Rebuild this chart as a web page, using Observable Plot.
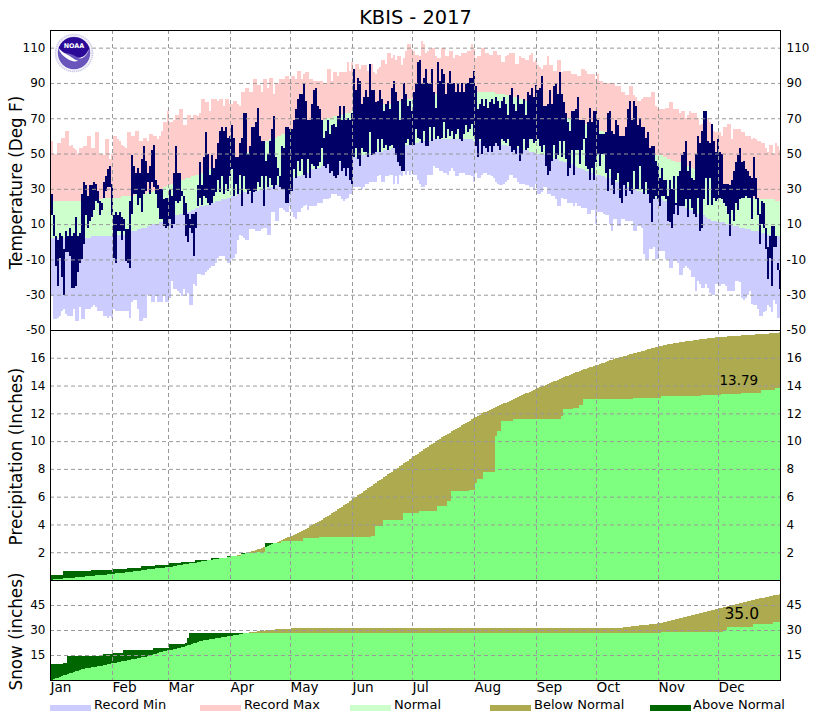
<!DOCTYPE html>
<html>
<head>
<meta charset="utf-8">
<script src="https://cdn.jsdelivr.net/npm/d3@7"></script>
<script src="https://cdn.jsdelivr.net/npm/@observablehq/plot@0.6"></script>
<style>
html,body{margin:0;padding:0;background:#fff;font-family:"DejaVu Sans",sans-serif;color:#000}
#page{position:relative;width:830px;height:720px;overflow:hidden}
#title{height:30px;line-height:36px;text-align:center;font-size:19.4px;padding-left:1px}
#legend{position:relative;height:20px}
#legend i{position:absolute;top:5px;height:6px;width:41px;display:block}
#legend span{position:absolute;top:-3px;font-size:13px;line-height:16px;white-space:pre}
#logo{position:absolute;left:54px;top:33px;width:40px;height:40px}
</style>
</head>
<body>
<div id="page">
<div id="title">KBIS - 2017</div>
<div id="plots"></div>
<div id="legend"></div>
<svg id="logo" viewBox="0 0 40 40">
<circle cx="20" cy="20" r="18.5" fill="#f4f3fb" stroke="#c9c6e6" stroke-width="1.6" stroke-dasharray="1.2,0.8"/>
<circle cx="20" cy="20" r="16.2" fill="#6a55bd"/>
<path d="M4.4 16 A16.2 16.2 0 0 1 35.6 16 C33 22 30 25 27 25 C23 25 20 21 12 20 C9 19.5 6.5 18 4.4 16Z" fill="#2a0a96"/>
<path d="M4 14.5 C8 19 11 20.5 14 22 C18 24 20 27 24 27.5 C22 29.5 16 28 13 25.5 C9 23 6 20 4 14.5Z M36 14 C33 21 30 24.5 24 25 C28 26.5 33 24 36 14Z" fill="#fff"/>
<text x="20" y="14.5" text-anchor="middle" font-size="6.4" font-weight="bold" fill="#fff" font-family="DejaVu Sans">NOAA</text>
</svg>
</div>
<script>
const monthNames = ["Jan","Feb","Mar","Apr","May","Jun","Jul","Aug","Sep","Oct","Nov","Dec"];
const monthStarts = [0,31,59,90,120,151,181,212,243,273,304,334];

const tempTicks = [-50,-30,-10,10,30,50,70,90,110];
const precipTicks = [2,4,6,8,10,12,14,16];
const snowTicks = [15,30,45];

const recordMax = [
57,50,50,56,56,59,59,63,63,54,55,53,52,50,53,53,54,54,60,60,53,53,62,62,50,50,49,58,58,47,50,
60,60,58,57,55,54,53,62,62,60,60,63,63,57,57,59,59,57,61,61,60,60,58,60,63,68,68,74,
68,68,69,72,72,75,75,66,66,72,72,70,72,72,71,73,81,81,79,79,74,81,81,81,80,81,81,77,81,81,78,
78,80,80,78,77,85,85,87,87,85,85,92,92,89,89,85,92,92,87,93,93,84,90,90,92,92,92,94,94,92,
94,94,92,97,97,92,95,96,96,92,92,91,91,91,91,91,90,90,98,98,91,96,96,94,96,96,96,96,102,97,102,
95,101,101,98,100,100,100,97,101,101,96,95,98,99,103,103,101,107,107,104,106,103,105,105,100,104,108,112,112,109,
108,106,106,105,114,112,107,108,109,110,110,105,104,104,110,110,105,105,108,108,104,106,106,105,107,107,107,108,108,112,109,
104,105,105,110,110,107,107,106,106,108,108,106,106,102,102,105,106,107,107,107,101,101,105,104,104,103,103,106,107,102,103,
100,99,98,100,100,105,100,100,97,97,103,103,96,97,97,97,97,95,95,95,94,94,98,98,97,95,95,95,95,92,
95,91,91,90,90,90,90,90,90,88,88,88,85,85,83,83,88,88,83,82,80,80,81,82,82,82,82,85,85,77,76,
75,75,75,76,76,79,79,75,75,75,73,74,74,70,72,74,73,73,73,70,66,67,68,70,70,68,67,63,62,62,
62,60,65,65,67,67,58,64,64,64,64,62,62,60,60,60,58,59,58,57,57,56,56,53,51,55,55,50,56,54,52];

const recordMin = [
-31,-44,-44,-43,-42,-39,-38,-41,-42,-42,-42,-38,-45,-45,-37,-44,-44,-38,-38,-38,-37,-36,-37,-39,-39,-39,-42,-42,-43,-42,-43,
-38,-39,-39,-39,-39,-39,-39,-39,-43,-34,-33,-33,-38,-45,-45,-43,-43,-30,-30,-34,-34,-31,-34,-34,-34,-30,-34,-34,
-32,-22,-27,-27,-28,-29,-31,-27,-30,-29,-36,-36,-24,-25,-18,-18,-19,-19,-17,-16,-15,-14,-14,-12,-9,-8,-8,-8,-10,-12,-12,
-10,-9,-7,1,4,3,2,1,1,7,7,7,6,6,6,7,8,8,4,4,17,17,12,12,19,19,18,17,17,20,
17,14,13,17,17,19,20,21,18,20,20,20,20,22,22,22,24,24,24,25,27,27,27,26,26,24,23,24,25,27,27,
31,31,31,31,30,31,33,33,34,34,34,34,37,38,34,34,37,37,38,38,33,37,33,38,37,40,38,40,38,40,
38,38,35,33,31,31,32,38,38,38,43,42,42,40,40,39,39,38,40,42,40,37,37,39,39,39,38,38,38,37,34,
39,36,36,38,39,39,38,38,37,36,34,33,32,32,33,34,35,38,38,36,36,34,33,33,33,32,32,31,31,30,33,
27,27,28,31,31,27,27,26,26,24,20,20,25,24,24,22,22,22,20,22,20,20,19,19,19,16,16,18,18,10,
17,17,17,16,15,15,10,6,13,13,9,9,13,13,12,12,12,12,6,6,9,9,8,-7,-10,-10,-4,-4,-3,-10,-10,
-5,-5,-5,-10,-10,-15,-15,-11,-11,-12,-19,-19,-15,-14,-15,-16,-20,-20,-28,-22,-24,-26,-26,-24,-26,-29,-30,-30,-24,-24,
-25,-24,-24,-25,-28,-28,-28,-28,-22,-22,-23,-32,-33,-32,-30,-28,-35,-36,-36,-38,-42,-42,-40,-39,-36,-37,-40,-33,-35,-43,-43];

const normalHigh = [
23,23,23,23,23,23,23,23,23,23,23,23,23,23,23,23,24,24,24,24,24,24,24,24,24,24,25,25,25,25,25,
25,25,25,25,26,26,26,26,26,26,26,27,27,27,27,27,27,28,28,28,29,29,29,30,30,31,31,32,
32,33,33,34,34,34,35,35,36,36,36,37,37,38,38,39,39,40,40,41,41,42,42,42,43,43,44,44,45,45,46,
46,47,47,48,49,49,50,51,51,52,52,53,54,54,55,55,56,57,57,58,58,59,59,60,60,61,61,62,62,63,
63,63,64,64,65,65,66,66,67,67,67,68,68,68,69,69,69,70,70,70,70,71,71,71,72,72,72,73,73,73,74,
74,74,74,75,75,75,75,76,76,76,76,77,77,77,77,78,78,78,78,79,79,79,79,80,80,80,80,81,81,81,
81,81,82,82,82,82,83,83,83,83,83,84,84,84,84,84,84,85,85,85,85,85,85,85,85,85,85,85,85,85,85,
85,85,85,85,85,85,85,85,85,85,84,84,84,84,84,83,83,83,83,82,82,82,81,81,81,80,80,79,79,78,78,
78,77,77,76,76,75,74,74,73,73,72,72,71,71,71,70,70,70,69,69,69,68,68,67,67,66,66,65,65,64,
64,63,63,62,62,61,61,60,60,59,59,58,58,57,57,56,56,55,55,54,54,53,53,52,52,51,51,50,50,49,49,
49,49,48,48,47,47,46,46,45,45,45,44,44,43,43,42,42,41,41,40,40,39,39,38,38,37,36,36,35,34,
33,32,32,31,31,30,30,29,29,28,28,27,27,26,26,25,25,25,24,24,24,24,24,24,24,24,24,24,23,23,23];

const normalLow = [
2,2,2,2,2,2,2,2,2,2,2,2,2,2,2,2,2,2,2,2,3,3,3,3,3,3,3,3,3,3,3,
3,3,4,4,4,4,5,5,5,6,6,6,7,7,8,8,8,9,9,10,10,10,10,11,11,12,13,13,
14,14,15,15,15,16,16,16,17,17,17,18,18,19,19,20,20,20,21,21,21,22,22,23,23,23,24,24,24,25,25,
26,26,26,27,27,27,28,28,28,28,29,29,29,29,30,30,30,30,31,31,31,32,32,32,33,33,33,34,34,35,
35,36,36,37,37,38,38,39,39,40,41,41,42,42,42,43,43,43,44,44,44,44,45,45,45,46,46,46,47,47,47,
48,48,48,49,49,49,50,50,50,50,51,51,51,51,51,52,52,52,52,53,53,53,53,54,54,54,55,55,56,56,
56,56,56,57,57,57,57,57,57,57,58,58,58,58,58,58,58,58,58,58,58,58,58,58,58,58,58,58,58,58,57,
57,57,57,57,56,56,56,56,56,56,56,55,55,55,55,55,54,54,54,54,54,53,53,53,52,52,52,51,51,51,50,
50,50,50,49,49,48,48,48,47,47,47,46,46,45,45,45,44,44,43,43,42,42,41,41,40,40,39,39,38,38,
38,38,37,37,36,36,36,35,35,34,34,33,33,32,32,31,31,30,30,30,29,29,28,28,27,27,26,26,25,25,24,
24,24,23,23,23,22,22,21,21,21,20,20,20,19,19,18,18,17,17,16,16,15,15,14,13,13,12,12,12,11,
11,11,11,10,10,10,10,9,9,9,8,8,8,7,7,7,6,6,6,6,5,5,5,5,4,4,4,4,3,3,3];

const obsHigh = [
27,15,3,1,5,3,-4,6,3,8,3,5,14,3,5,27,34,32,26,32,32,34,33,29,23,22,34,37,41,43,33,
15,17,15,17,14,13,7,7,23,49,43,39,42,39,47,54,46,39,43,52,55,35,32,30,30,24,25,25,
30,26,39,54,39,39,29,26,22,16,13,16,16,17,32,45,32,48,62,50,38,49,42,47,56,63,65,63,65,59,60,
66,59,48,48,56,59,73,73,50,54,65,65,68,76,60,57,57,46,50,57,64,71,48,42,37,54,53,65,65,64,
64,69,75,81,84,84,90,80,69,69,78,86,87,77,75,69,59,63,69,61,66,67,65,71,77,69,77,69,70,69,73,
98,86,93,91,78,82,86,82,101,86,86,79,80,86,81,74,78,80,75,87,91,85,80,69,81,90,84,77,80,74,
85,90,102,103,90,93,98,90,90,98,85,76,102,91,98,95,84,90,97,90,90,85,90,85,90,85,90,90,93,93,97,
88,75,78,81,77,81,76,79,81,78,82,80,76,80,82,78,72,83,87,78,74,83,78,78,81,72,85,83,87,82,89,
86,87,94,77,77,78,86,78,88,90,84,96,84,79,73,68,63,74,74,75,82,69,69,69,59,68,76,68,74,74,
69,61,61,61,62,73,74,63,61,69,66,60,60,60,65,75,80,69,80,77,66,70,65,65,59,62,53,54,54,46,43,
36,42,35,35,26,35,30,37,22,37,40,49,51,57,40,46,36,35,50,60,56,63,74,74,57,56,67,57,51,58,
51,50,33,33,33,32,35,40,45,49,53,45,46,41,40,37,36,48,36,25,16,23,22,8,-3,3,9,9,3,-12,-16];

const obsLow = [
15,3,-14,-25,-9,-20,-30,-6,-6,-8,-26,-26,-25,-17,-12,-10,-1,15,8,12,14,18,23,22,15,18,25,29,31,31,15,
-9,-12,6,6,1,6,-11,-12,-15,16,27,27,21,25,17,27,29,34,27,34,31,27,19,13,13,9,8,9,
13,8,10,23,22,23,26,15,3,0,8,5,-8,8,20,25,21,26,25,22,21,22,26,28,35,28,37,27,33,29,37,
41,26,33,27,38,20,37,30,27,29,22,28,29,34,31,37,20,37,31,36,32,30,32,37,31,30,30,22,22,27,
29,41,36,46,40,47,38,36,47,36,44,43,41,43,45,53,43,42,44,39,40,37,36,38,46,40,42,37,42,35,33,
48,53,47,43,53,51,51,48,62,49,50,51,58,51,58,53,55,52,54,55,53,49,45,43,40,40,56,58,55,55,
55,64,59,58,56,63,54,54,65,57,65,58,60,58,59,68,59,64,60,63,58,61,64,58,57,61,66,62,64,67,60,
54,48,58,50,54,53,51,54,51,54,56,54,52,58,57,56,58,54,51,52,50,54,46,50,58,52,53,58,58,56,57,
58,54,51,55,43,38,40,46,55,47,49,57,48,57,47,37,42,52,38,52,52,44,52,58,43,41,35,42,35,45,
50,43,50,50,39,29,41,32,27,35,39,25,22,32,26,34,29,27,40,30,30,43,30,27,34,27,22,11,24,26,24,
20,26,26,24,12,11,8,16,21,15,20,20,20,24,14,24,19,16,14,25,6,8,24,36,21,36,21,25,23,24,
25,24,22,20,16,3,18,12,22,18,24,25,25,26,25,25,13,26,24,15,-1,10,8,-4,-21,-9,-25,-3,-3,-16,-27];

const normalPrecip = [
0.03,0.04,0.06,0.07,0.08,0.10,0.11,0.12,0.14,0.15,0.16,0.18,0.19,0.20,0.22,0.23,0.25,0.26,0.27,0.29,0.30,0.31,0.33,0.34,0.35,0.37,0.38,0.39,0.41,0.42,0.44,
0.45,0.47,0.49,0.51,0.52,0.54,0.56,0.58,0.60,0.61,0.63,0.65,0.67,0.68,0.70,0.72,0.74,0.76,0.77,0.79,0.81,0.83,0.84,0.86,0.88,0.90,0.92,0.93,
0.95,0.97,1.00,1.02,1.05,1.07,1.09,1.12,1.14,1.17,1.19,1.22,1.24,1.26,1.29,1.31,1.34,1.36,1.38,1.41,1.43,1.46,1.48,1.50,1.53,1.55,1.58,1.60,1.62,1.65,1.67,
1.70,1.73,1.76,1.79,1.83,1.86,1.90,1.94,1.98,2.02,2.06,2.10,2.15,2.20,2.25,2.30,2.35,2.41,2.46,2.52,2.58,2.64,2.70,2.76,2.82,2.88,2.95,3.01,3.07,3.13,
3.20,3.27,3.34,3.41,3.48,3.55,3.62,3.70,3.78,3.86,3.94,4.02,4.10,4.18,4.26,4.35,4.44,4.53,4.62,4.71,4.80,4.89,4.98,5.08,5.18,5.28,5.38,5.48,5.58,5.68,5.78,
5.89,6.00,6.10,6.20,6.30,6.40,6.50,6.60,6.70,6.80,6.90,7.00,7.10,7.20,7.30,7.40,7.50,7.60,7.70,7.80,7.90,8.00,8.10,8.20,8.30,8.40,8.50,8.60,8.70,8.80,
8.90,9.00,9.10,9.20,9.30,9.40,9.50,9.60,9.70,9.80,9.90,10.00,10.09,10.18,10.27,10.35,10.44,10.53,10.62,10.70,10.79,10.88,10.96,11.05,11.14,11.22,11.31,11.40,11.48,11.57,11.65,
11.74,11.83,11.91,12.00,12.07,12.13,12.20,12.26,12.33,12.39,12.46,12.52,12.59,12.65,12.72,12.78,12.85,12.91,12.98,13.04,13.11,13.17,13.24,13.30,13.37,13.43,13.50,13.56,13.63,13.69,13.76,
13.82,13.88,13.94,14.00,14.06,14.12,14.18,14.24,14.30,14.36,14.42,14.48,14.54,14.60,14.66,14.72,14.78,14.84,14.90,14.96,15.01,15.06,15.11,15.16,15.21,15.26,15.31,15.36,15.41,15.46,
15.51,15.56,15.61,15.66,15.71,15.76,15.81,15.86,15.91,15.96,16.00,16.04,16.08,16.12,16.16,16.20,16.24,16.28,16.32,16.36,16.40,16.44,16.48,16.52,16.56,16.60,16.64,16.68,16.72,16.76,16.80,
16.84,16.87,16.90,16.93,16.96,16.99,17.02,17.05,17.08,17.10,17.12,17.14,17.16,17.18,17.20,17.22,17.24,17.26,17.28,17.30,17.32,17.34,17.36,17.38,17.40,17.42,17.44,17.46,17.48,17.49,
17.50,17.51,17.52,17.53,17.54,17.55,17.56,17.57,17.58,17.59,17.60,17.61,17.62,17.63,17.64,17.65,17.66,17.67,17.68,17.69,17.70,17.71,17.72,17.73,17.74,17.75,17.76,17.78,17.80,17.82,17.84];

const normalSnow = [
0.3,0.7,1.1,1.5,2,2.4,2.9,3.3,3.7,4.1,4.5,4.9,5.2,5.6,6,6.4,6.7,7,7.2,7.4,7.6,7.8,8,8.2,8.4,8.7,9,9.3,9.6,9.8,10,
10.2,10.5,10.7,11,11.2,11.5,11.7,12,12.2,12.4,12.7,12.9,13.2,13.4,13.7,13.9,14.1,14.4,14.6,15,15.4,15.8,16.2,16.6,17,17.3,17.6,17.8,
18,18.3,18.6,18.9,19.2,19.5,19.8,20.1,20.4,20.8,21.2,21.6,22,22.4,22.8,23.2,23.6,23.8,24,24.2,24.4,24.6,24.8,25,25.2,25.4,25.6,25.8,26,26.2,26.4,
26.6,26.8,27,27.2,27.4,27.7,28,28.2,28.4,28.6,28.8,29,29.1,29.3,29.4,29.6,29.7,29.9,30,30.1,30.2,30.3,30.4,30.5,30.6,30.7,30.8,30.8,30.9,30.9,
31,31,31,31.1,31.1,31.1,31.2,31.2,31.2,31.3,31.3,31.3,31.3,31.4,31.4,31.4,31.4,31.4,31.4,31.4,31.4,31.4,31.4,31.4,31.4,31.4,31.4,31.4,31.4,31.4,31.4,
31.4,31.4,31.4,31.4,31.4,31.4,31.4,31.4,31.4,31.4,31.4,31.4,31.4,31.4,31.4,31.4,31.4,31.4,31.4,31.4,31.4,31.4,31.4,31.4,31.4,31.4,31.4,31.4,31.4,31.4,
31.4,31.4,31.4,31.4,31.4,31.4,31.4,31.4,31.4,31.4,31.4,31.4,31.4,31.4,31.4,31.4,31.4,31.4,31.4,31.4,31.4,31.4,31.4,31.4,31.4,31.4,31.4,31.4,31.4,31.4,31.4,
31.4,31.4,31.4,31.4,31.4,31.4,31.4,31.4,31.4,31.4,31.4,31.4,31.4,31.4,31.4,31.4,31.4,31.4,31.4,31.4,31.4,31.4,31.4,31.4,31.4,31.4,31.4,31.4,31.4,31.4,31.4,
31.4,31.4,31.4,31.4,31.4,31.4,31.4,31.4,31.4,31.4,31.4,31.4,31.4,31.4,31.4,31.4,31.4,31.4,31.4,31.4,31.4,31.4,31.4,31.4,31.4,31.4,31.4,31.4,31.4,31.4,
31.4,31.4,31.4,31.4,31.4,31.4,31.4,31.4,31.4,31.4,31.4,31.4,31.5,31.6,31.7,31.8,32,32.2,32.4,32.5,32.6,32.8,32.9,33,33.1,33.3,33.5,33.7,33.8,33.9,34,
34.2,34.5,34.8,35,35.3,35.6,35.9,36.2,36.5,36.8,37,37.3,37.6,37.9,38.3,38.6,38.9,39.2,39.5,39.8,40.2,40.5,40.8,41.1,41.4,41.7,42,42.3,42.5,42.8,
43,43.3,43.6,43.9,44.2,44.5,44.8,45.1,45.4,45.7,46,46.3,46.6,46.9,47.2,47.5,47.8,48.1,48.4,48.7,49,49.2,49.5,49.8,50,50.3,50.6,50.8,51,51.3,51.6];

// observed accumulation: the day each step begins and the total from that day on
const obsPrecipDays = [0,6,20,31,38,45,52,59,65,72,80,88,95,102,107,111,115,126,134,160,162,166,174,176,181,184,193,198,200,209,212,213,216,222,223,225,231,255,256,261,264,266,291,305,325,335,345,355,362];
const obsPrecipVals = [0.36,0.62,0.7,0.8,0.9,1.0,1.1,1.25,1.3,1.45,1.6,1.75,1.95,2.05,2.65,2.7,2.8,3.0,3.1,3.17,3.9,4.3,4.35,4.8,4.85,4.97,5.3,5.7,6.4,6.5,7.0,7.3,7.8,10.4,10.7,11.45,11.6,11.8,12.3,12.4,12.6,13.0,13.1,13.25,13.3,13.4,13.5,13.65,13.79];
const obsSnowDays = [0,6,8,26,31,36,51,59,67,68,69,305,336,338,351,361];
const obsSnowVals = [9.4,10,14.4,15.6,16.5,18,19,21.6,22.4,25,28,29,30,31.6,33.6,35];

const finalPrecip = "13.79";
const finalSnow = "35.0";

const legendLabels = ["Record Min","Record Max","Normal","Below Normal","Above Normal"];
const legendColors = ["#ccccff","#ffcccc","#ccffcc","#adaa4f","#006600"];
const legendLeft = [50,200,350,490,650];
const legendText = [94,244,394,534,693];

const C = {recMin:"#ccccff",recMax:"#ffcccc",normal:"#ccffcc",obs:"#000066",green:"#7fff7f",below:"#adaa4f",above:"#006600",grid:"#999999"};
const days = d3.range(365);
const rectOpts = (y1,y2,fill) => ({x1:d=>d, x2:d=>d+1, y1, y2, fill, dx:1, shapeRendering:"crispEdges"});
const stepAt = (ds,vs,d) => vs[d3.bisectRight(ds,d)-1];

function gridMarks(yTicks){
  return [
    Plot.ruleX(monthStarts.slice(1),{x:d=>d,stroke:C.grid,strokeDasharray:"4,3"}),
    Plot.ruleY(yTicks,{y:d=>d,stroke:C.grid,strokeDasharray:"4,3"})
  ];
}
function axisMarks(yTicks,label,labelDy){
  return [
    Plot.frame({stroke:"#000"}),
    Plot.axisY({anchor:"left",ticks:yTicks,tickSize:0,tickPadding:5,label:null,tickFormat:d=>String(d)}),
    Plot.axisY({anchor:"right",ticks:yTicks,tickSize:0,tickPadding:6,label:null,tickFormat:d=>String(d)}),
    Plot.text([label],{frameAnchor:"left",textAnchor:"middle",dx:-34,dy:labelDy,rotate:-90,fontSize:16.8,fill:"#000"})
  ];
}
const base = {width:830,marginLeft:50,marginRight:50,marginTop:0,
  x:{domain:[0,365],axis:null},
  style:{fontFamily:"DejaVu Sans",fontSize:"12px",background:"none",overflow:"visible",color:"#000"}};

const tempPlot = Plot.plot({...base,height:300,marginBottom:0,
  y:{domain:[-50,120],axis:null},
  marks:[
    Plot.rect(days,rectOpts(d=>recordMin[d],d=>normalLow[d],C.recMin)),
    Plot.rect(days,rectOpts(d=>normalHigh[d],d=>recordMax[d],C.recMax)),
    Plot.rect(days,rectOpts(d=>normalLow[d],d=>normalHigh[d],C.normal)),
    Plot.rect(days,rectOpts(d=>obsLow[d],d=>obsHigh[d],C.obs)),
    ...gridMarks(tempTicks),
    ...axisMarks(tempTicks,"Temperature (Deg F)",2)
  ]});

function accumMarks(normal,obs){
  return [
    Plot.rect(days,rectOpts(()=>0,d=>Math.min(normal(d),obs(d)),C.green)),
    Plot.rect(days.filter(d=>normal(d)>obs(d)),rectOpts(d=>obs(d),d=>normal(d),C.below)),
    Plot.rect(days.filter(d=>obs(d)>normal(d)),rectOpts(d=>normal(d),d=>obs(d),C.above))
  ];
}
const precipObs = d=>stepAt(obsPrecipDays,obsPrecipVals,d);
const snowObs = d=>stepAt(obsSnowDays,obsSnowVals,d);

const precipPlot = Plot.plot({...base,height:250,marginBottom:0,
  y:{domain:[0,18],axis:null},
  marks:[
    ...accumMarks(d=>normalPrecip[d],precipObs),
    ...gridMarks(precipTicks),
    Plot.text([finalPrecip],{x:()=>334.5,y:()=>14.4,textAnchor:"start",fontSize:13.5,fill:"#000"}),
    ...axisMarks(precipTicks,"Precipitation (Inches)",1)
  ]});

const snowPlot = Plot.plot({...base,height:120,marginBottom:20,
  y:{domain:[0,60],axis:null},
  marks:[
    ...accumMarks(d=>normalSnow[d],snowObs),
    ...gridMarks(snowTicks),
    Plot.text([finalSnow],{x:()=>337,y:()=>40,textAnchor:"start",fontSize:15.5,fill:"#000"}),
    ...axisMarks(snowTicks,"Snow (inches)",1),
    Plot.axisX({anchor:"bottom",ticks:monthStarts,tickSize:0,tickPadding:2,label:null,textAnchor:"start",fontSize:13.6,
      tickFormat:d=>monthNames[monthStarts.indexOf(d)]})
  ]});

document.getElementById("plots").append(tempPlot,precipPlot,snowPlot);

const legend = document.getElementById("legend");
legendLabels.forEach((t,i)=>{
  const sw=document.createElement("i");
  sw.style.left=legendLeft[i]+"px"; sw.style.background=legendColors[i];
  const s=document.createElement("span");
  s.style.left=legendText[i]+"px"; s.textContent=t;
  legend.append(sw,s);
});
</script>
</body>
</html>
